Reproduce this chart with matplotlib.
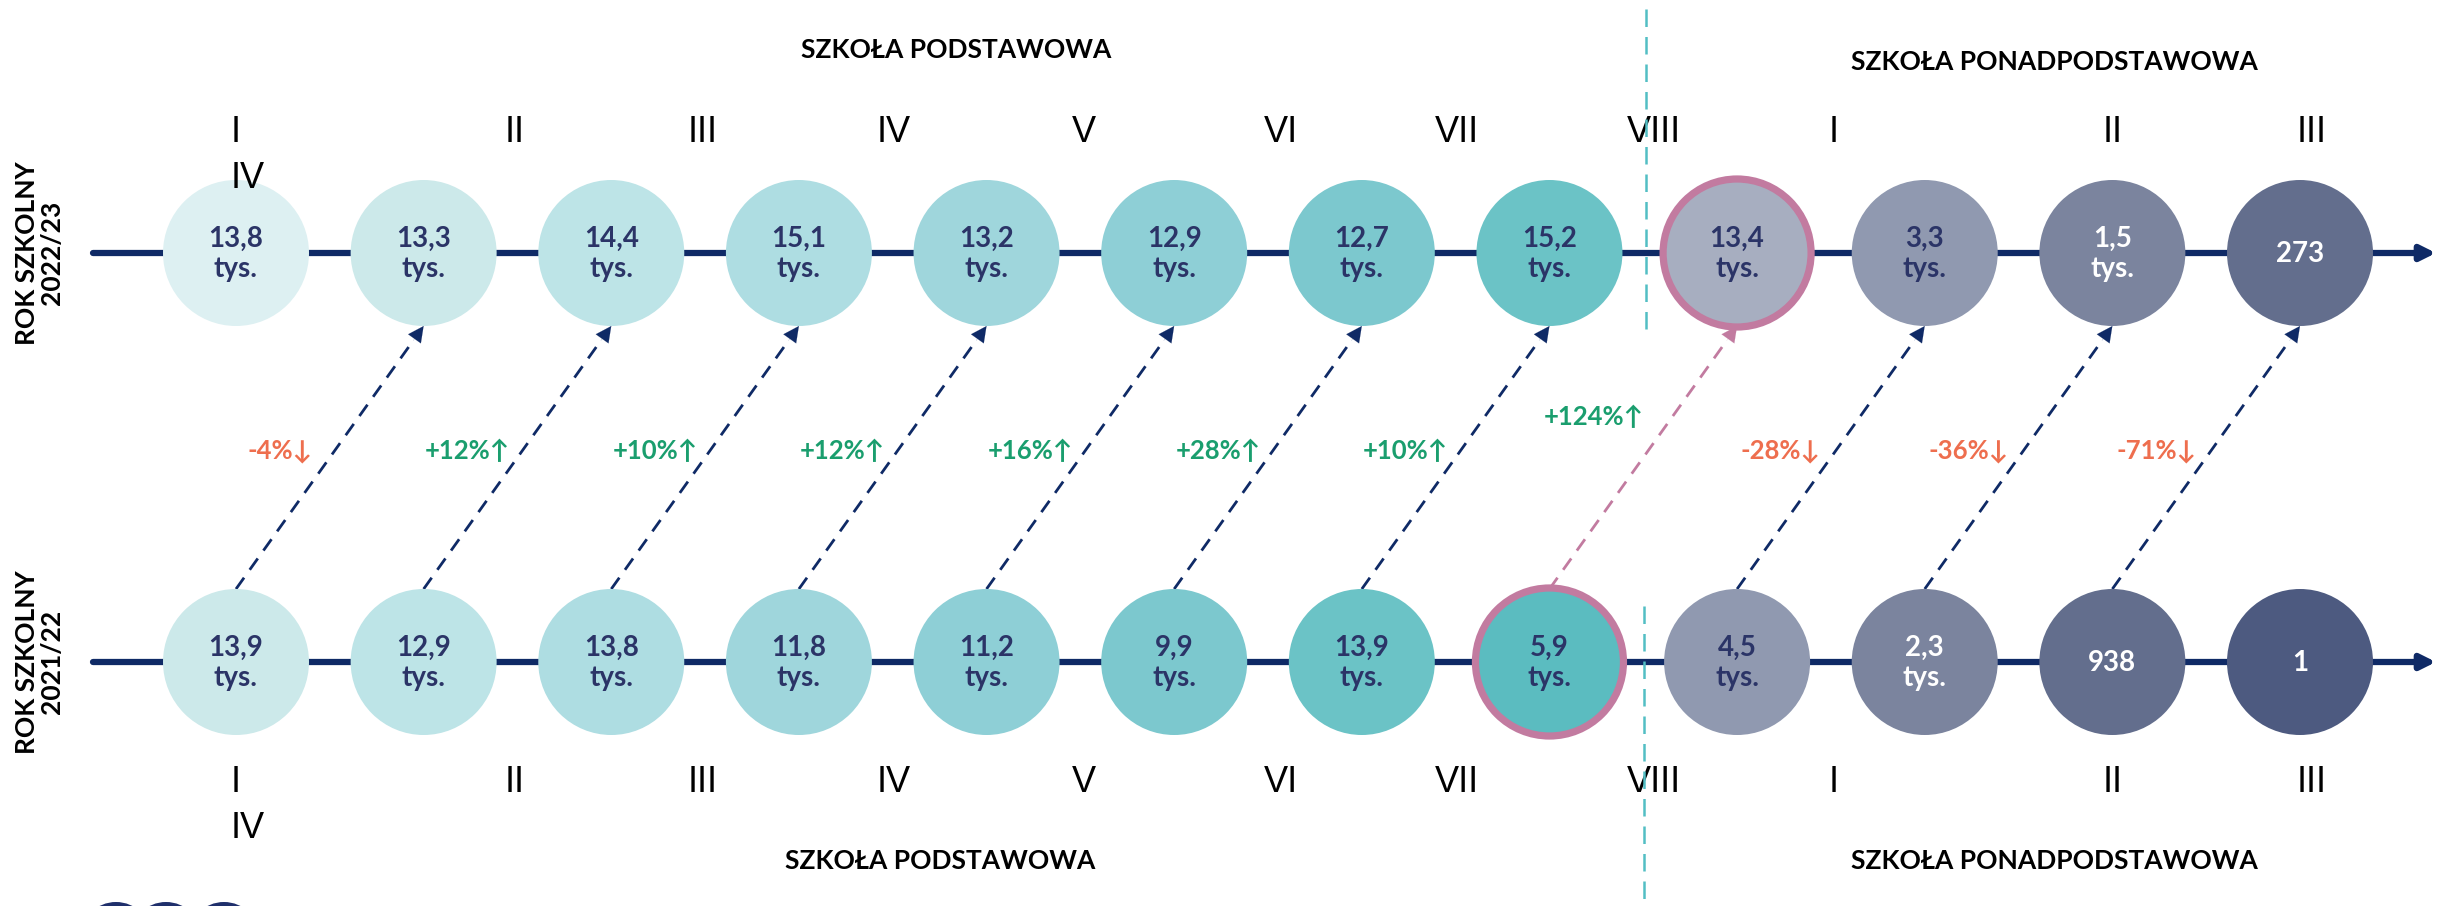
import matplotlib
matplotlib.use("Agg")
import matplotlib.pyplot as plt
from matplotlib.patches import Circle
import numpy as np

# ---------------- data ----------------
values_2022 = [13800, 13300, 14400, 15100, 13200, 12900, 12700, 15200, 13400, 3300, 1500, 273]
values_2021 = [13900, 12900, 13800, 11800, 11200, 9900, 13900, 5900, 4500, 2300, 938, 1]
changes = ["-4%", "+12%", "+10%", "+12%", "+16%", "+28%", "+10%", "+124%", "-28%", "-36%", "-71%"]
grades = ["I", "II", "III", "IV", "V", "VI", "VII", "VIII", "I", "II", "III"]
row_labels = ["ROK SZKOLNY\n2022/23", "ROK SZKOLNY\n2021/22"]
school_titles = ["SZKOŁA PODSTAWOWA", "SZKOŁA PONADPODSTAWOWA"]

colors_2022 = ["#DDF0F2", "#CCE9EA", "#BDE4E7", "#AEDDE2", "#9FD6DC", "#8ECFD6",
               "#7CC8CE", "#6BC3C6", "#A7AEC0", "#9099B0", "#7B849E", "#636E8D"]
colors_2021 = ["#CCE9EA", "#BDE4E7", "#AEDDE2", "#9FD6DC", "#8ECFD6", "#7CC8CE",
               "#6BC3C6", "#5BBCC0", "#9099B0", "#7B849E", "#636E8D", "#4D5A80"]
white_2022 = [False]*10 + [True, True]
white_2021 = [False]*9 + [True, True, True]

NAVY = "#0F2A66"
TXT = "#2B3467"
PINK = "#C27BA0"
CYAN = "#52BEC4"
RED = "#EE6E4E"
GREEN = "#1A9E6E"

# ---------------- layout ----------------
W, H = 2438, 906
fig = plt.figure(figsize=(W/100, H/100), dpi=100)
ax = fig.add_axes([0, 0, 1, 1])
ax.set_xlim(0, W)
ax.set_ylim(H, 0)
ax.axis("off")

xs = np.linspace(236, 2300, 12)
y_top, y_bot = 253, 662
R = 73

def fmt(v):
    if v >= 1000:
        return f"{v/1000:.1f}".replace(".", ",") + "\ntys."
    return str(v)

# horizontal timelines
for y in (y_top, y_bot):
    ax.annotate("", xy=(W - 2, y), xytext=(93, y),
                arrowprops=dict(arrowstyle="-|>", color=NAVY, lw=4.5,
                                mutation_scale=22, shrinkA=0, shrinkB=0), zorder=1)

# circles
def draw_row(vals, cols, whites, y, pink_idx):
    for i, (v, c, w) in enumerate(zip(vals, cols, whites)):
        if i == pink_idx:
            ax.add_patch(Circle((xs[i], y), R + 1, facecolor=c, edgecolor=PINK, lw=5.2, zorder=3))
        else:
            ax.add_patch(Circle((xs[i], y), R, facecolor=c, edgecolor="none", zorder=3))
        ax.text(xs[i], y + 1, fmt(v), ha="center", va="center", fontsize=20,
                fontfamily="Lato", fontweight="bold", color="white" if w else TXT,
                linespacing=1.2, zorder=4)

draw_row(values_2022, colors_2022, white_2022, y_top, 8)
draw_row(values_2021, colors_2021, white_2021, y_bot, 7)

# transition arrows
for i in range(11):
    col = PINK if i == 7 else NAVY
    x0, y0 = xs[i], y_bot - R
    x1, y1 = xs[i + 1], y_top + R
    d = np.array([x1 - x0, y1 - y0]); d = d / np.hypot(*d)
    xe, ye = x1 - d[0]*18, y1 - d[1]*18
    ax.plot([x0, xe], [y0, ye], color=col, lw=2.0, ls=(0, (5, 3.5)), zorder=2)
    ax.annotate("", xy=(x1, y1), xytext=(xe, ye),
                arrowprops=dict(arrowstyle="-|>", color=col, lw=0.1,
                                mutation_scale=28, shrinkA=0, shrinkB=0), zorder=2)
    ch = changes[i]
    up = ch.startswith("+")
    ly = 417 if i == 7 else 451
    ax.text((x0 + x1)/2 - 50, ly, ch + ("\u2191" if up else "\u2193"),
            ha="center", va="center", fontsize=18.5, fontweight="bold",
            family=["Lato", "DejaVu Sans"], color=GREEN if up else RED, zorder=5)

# grade numerals
num_x = [236, 515, 703, 894, 1084, 1281, 1457, 1654, 1834, 2113, 2312]
for gx, g in zip(num_x, grades):
    ax.text(gx, 133, g, ha="center", va="center", fontsize=26,
            fontfamily="Liberation Sans", color="black", zorder=5)
    ax.text(gx, 783, g, ha="center", va="center", fontsize=26,
            fontfamily="Liberation Sans", color="black", zorder=5)
ax.text(248, 178, "IV", ha="center", va="center", fontsize=26, fontfamily="Liberation Sans", color="black")
ax.text(248, 828, "IV", ha="center", va="center", fontsize=26, fontfamily="Liberation Sans", color="black")

# school titles
ax.text(956, 50, school_titles[0], ha="center", va="center", fontsize=19, fontfamily="Lato", fontweight="bold")
ax.text(2054, 62, school_titles[1], ha="center", va="center", fontsize=19, fontfamily="Lato", fontweight="bold")
ax.text(940, 861, school_titles[0], ha="center", va="center", fontsize=19, fontfamily="Lato", fontweight="bold")
ax.text(2054, 861, school_titles[1], ha="center", va="center", fontsize=19, fontfamily="Lato", fontweight="bold")

# row labels
ax.text(40, y_top, row_labels[0], ha="center", va="center", rotation=90, fontsize=19,
        fontfamily="Lato", fontweight="bold", linespacing=1.05)
ax.text(40, y_bot, row_labels[1], ha="center", va="center", rotation=90, fontsize=19,
        fontfamily="Lato", fontweight="bold", linespacing=1.05)

# divider
ax.plot([1646, 1646], [9, 330], color=CYAN, lw=1.8, ls=(0, (7, 4)), zorder=6)
ax.plot([1644, 1644], [606, 906], color=CYAN, lw=1.8, ls=(0, (7, 4)), zorder=6)

# logo fragment
for cx in (116, 166, 224):
    ax.add_patch(Circle((cx, 938), 36, facecolor="#1F2F6B", edgecolor="none", zorder=2))

fig.savefig("out.png", dpi=100)
